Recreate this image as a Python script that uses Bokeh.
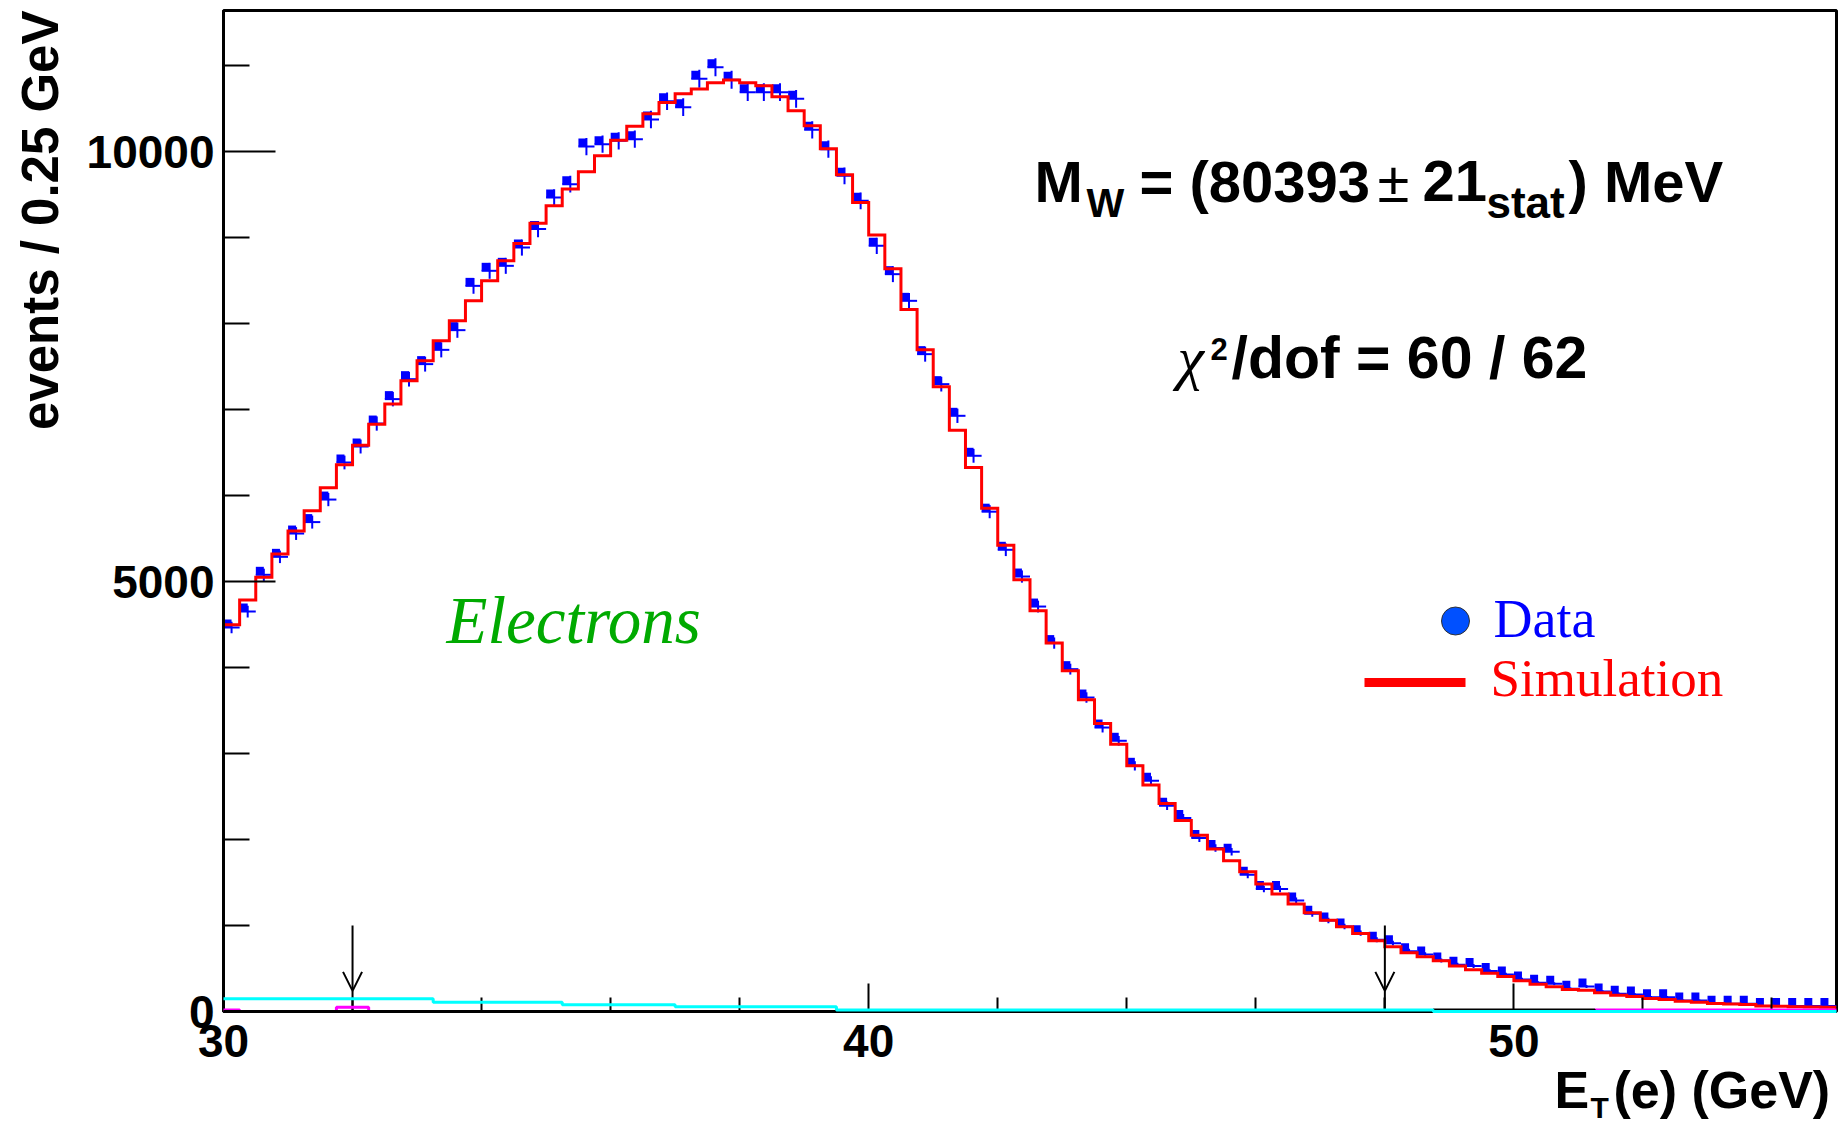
import numpy as np
from bokeh.plotting import figure
from bokeh.models import FixedTicker, Range1d, Arrow, OpenHead
from bokeh.embed import file_html
from bokeh.resources import INLINE
from bokeh.core.properties import value

# ---------------- data ----------------
bin_low = 30.0
bin_width = 0.25

sim_counts = [
    4497, 4784, 5051, 5319, 5586, 5822, 6090, 6357, 6586, 6830,
    7063, 7334, 7567, 7799, 8031, 8264, 8497, 8729, 8930, 9167,
    9369, 9563, 9764, 9950, 10132, 10295, 10440, 10570, 10673, 10727,
    10799, 10832, 10799, 10766, 10638, 10475, 10299, 10031, 9729, 9407,
    9028, 8636, 8163, 7694, 7264, 6760, 6326, 5853, 5423, 5020,
    4659, 4284, 3962, 3624, 3349, 3109, 2857, 2633, 2420, 2220,
    2050, 1889, 1753, 1625, 1482, 1365, 1249, 1148, 1062, 985,
    907, 822, 752, 683, 636, 590, 528, 485, 446, 407,
    357, 318, 287, 256, 248, 217, 190, 175, 150, 140,
    118, 108, 92, 86, 80, 64, 60, 56, 52, 48,
]

data_counts = [
    4465, 4651, 5078, 5287, 5558, 5691, 5953, 6384, 6570, 6837,
    7121, 7353, 7528, 7694, 7923, 8438, 8613, 8671, 8884, 9098,
    9465, 9621, 10058, 10086, 10124, 10144, 10372, 10585, 10516, 10846,
    10981, 10834, 10690, 10690, 10690, 10613, 10252, 10027, 9717, 9427,
    8903, 8574, 8264, 7644, 7295, 6927, 6462, 5812, 5369, 5058,
    4709, 4284, 3981, 3651, 3302, 3148, 2857, 2683, 2393, 2250,
    2017, 1901, 1858, 1590, 1424, 1424, 1291, 1136, 1058, 988,
    911, 834, 795, 702, 663, 593, 543, 528, 470, 430,
    372, 334, 322, 264, 291, 233, 206, 198, 167, 167,
    128, 128, 90, 90, 90, 63, 63, 63, 63, 63,
]

# small background histograms (coarse binning)
cyan_edges = [30.0, 33.25, 35.25, 37.0, 39.5, 48.75, 55.0]
cyan_counts = [148, 109, 78, 55, 18, 0]
black_edges = [30.0, 48.75, 51.25, 55.0]
black_counts = [0, 18, 0]
magenta_edges = [30.0, 30.25, 31.75, 32.25, 51.25, 55.0]
magenta_counts = [16, 0, 50, 0, 18]

fit_window = [32.0, 48.0]

x_major_ticks = [30, 40, 50]
x_minor_ticks = [32, 34, 36, 38, 42, 44, 46, 48, 52, 54]
x_tick_labels = ["30", "40", "50"]
y_major_ticks = [0, 5000, 10000]
y_minor_ticks = [1000, 2000, 3000, 4000, 6000, 7000, 8000, 9000, 11000]
y_tick_labels = ["0", "5000", "10000"]

# ---------------- layout ----------------
W, H = 1840, 1128
BL, BR, BT, BB = 223, 4, 10, 117
XMIN, XMAX, YMIN, YMAX = 30.0, 55.0, 0.0, 11640.0
FW = W - BL - BR
FH = H - BT - BB
sx = FW / (XMAX - XMIN)
sy = FH / (YMAX - YMIN)


def px2x(X):
    return XMIN + (X - BL) / sx


def px2y(Y):
    return YMIN + (BT + FH - Y) / sy


p = figure(width=W, height=H, x_range=Range1d(XMIN, XMAX), y_range=Range1d(YMIN, YMAX),
           output_backend="svg", toolbar_location=None,
           min_border_left=BL, min_border_right=BR, min_border_top=BT, min_border_bottom=BB)
p.xgrid.visible = False
p.ygrid.visible = False
p.background_fill_color = "white"
p.border_fill_color = "white"
p.outline_line_color = "black"
p.outline_line_width = 3

FONT = "Liberation Sans"
SERIF = "Liberation Serif"

p.xaxis.ticker = FixedTicker(ticks=x_major_ticks, minor_ticks=x_minor_ticks)
p.xaxis.major_label_overrides = dict(zip(x_major_ticks, x_tick_labels))
p.xaxis.major_tick_in = 28
p.xaxis.major_tick_out = 0
p.xaxis.minor_tick_in = 14
p.xaxis.minor_tick_out = 0
p.xaxis.major_label_standoff = 13

p.yaxis.ticker = FixedTicker(ticks=y_major_ticks, minor_ticks=y_minor_ticks)
p.yaxis.major_label_overrides = dict(zip(y_major_ticks, y_tick_labels))
p.yaxis.major_tick_in = 52
p.yaxis.major_tick_out = 0
p.yaxis.minor_tick_in = 26
p.yaxis.minor_tick_out = 0
p.yaxis.major_label_standoff = 9

for ax in (p.xaxis, p.yaxis):
    ax.axis_line_width = 3
    ax.axis_line_color = "black"
    ax.major_tick_line_width = 2
    ax.minor_tick_line_width = 2
    ax.major_tick_line_color = "black"
    ax.minor_tick_line_color = "black"
    ax.major_label_text_font = FONT
    ax.major_label_text_font_style = "bold"
    ax.major_label_text_font_size = "46px"
    ax.major_label_text_color = "black"


def step_xy(edges, vals):
    e = np.asarray(edges, dtype=float)
    v = np.asarray(vals, dtype=float)
    return np.repeat(e, 2)[1:-1], np.repeat(v, 2)


edges = bin_low + bin_width * np.arange(len(sim_counts) + 1)
centers = edges[:-1] + bin_width / 2
data_arr = np.asarray(data_counts, dtype=float)
err = np.sqrt(data_arr)

# data points: error bars + square marker
p.segment(x0=edges[:-1], x1=edges[1:], y0=data_arr, y1=data_arr, line_color="#0000ff", line_width=2)
p.segment(x0=centers, x1=centers, y0=data_arr - err, y1=data_arr + err, line_color="#0000ff", line_width=2)
p.scatter(x=centers - 4 / sx, y=data_arr + 4 / sy, marker="square", size=8,
          fill_color="#0000ff", line_color=None)

# simulation histogram
xs, ys = step_xy(edges, sim_counts)
p.line(xs, ys, line_color="#ff0000", line_width=3, line_join="miter")

# backgrounds
for e_, v_, c_ in ((magenta_edges, magenta_counts, "#ff00ff"),
                   (black_edges, black_counts, "black"),
                   (cyan_edges, cyan_counts, "#00ffff")):
    bx, by = step_xy(e_, v_)
    r = p.line(bx, by, line_color=c_, line_width=3)
    r.level = "overlay"

# fit-window arrows
for xa in fit_window:
    p.add_layout(Arrow(end=OpenHead(size=19, line_width=2, line_color="black"),
                       x_start=xa, y_start=1000, x_end=xa, y_end=240,
                       line_width=2, line_color="black"))
p.segment(x0=fit_window, x1=fit_window, y0=[240, 240], y1=[0, 0], line_color="black", line_width=2)

# legend keys
p.scatter(x=[px2x(1455)], y=[px2y(620.5)], size=28, marker="circle",
          fill_color="#0050ff", line_color="#333333", line_width=1)
p.segment(x0=[px2x(1364)], x1=[px2x(1465)], y0=[px2y(682)], y1=[px2y(682)],
          line_color="#ff0000", line_width=9)

K_BASE = 0.38  # empirical baseline correction of the renderer


def txt(text, X, Y, size, font=FONT, style="bold", color="black", align="left", angle=0.0):
    if angle == 0.0:
        Y = Y - K_BASE * size
    else:
        X = X - K_BASE * size
    r = p.text(x=[px2x(X)], y=[px2y(Y)], text=[text], text_font=value(font),
               text_font_style=style, text_font_size=f"{size}px", text_color=color,
               text_align=align, text_baseline="alphabetic", angle=angle)
    r.level = "overlay"


txt("Data", 1493, 639, 54, font=SERIF, style="normal", color="#0000ff")
txt("Simulation", 1490, 698, 53, font=SERIF, style="normal", color="#ff0000")
txt("Electrons", 446, 645, 67, font=SERIF, style="italic", color="#00aa00")

# M_W line
txt("M", 1034, 203, 58)
txt("W", 1086, 218, 40)
txt("= (80393", 1139, 203, 58)
txt("\u00b1", 1377, 203, 58, style="normal")
txt("21", 1422, 203, 58)
txt("stat", 1486, 219, 44)
txt(") MeV", 1568, 203, 58)

# chi2 line
txt("\u03c7", 1177, 380, 60, font=SERIF, style="italic")
txt("2", 1210, 360, 31)
txt("/dof = 60 / 62", 1231, 380, 59)

# axis titles
txt("events / 0.25 GeV", 59, 10, 51, align="right", angle=np.pi / 2)
txt("E", 1554, 1109, 52)
txt("T", 1590, 1118, 30)
txt("(e) (GeV)", 1613, 1109, 52)

open("out.html", "w").write(file_html(p, INLINE))
